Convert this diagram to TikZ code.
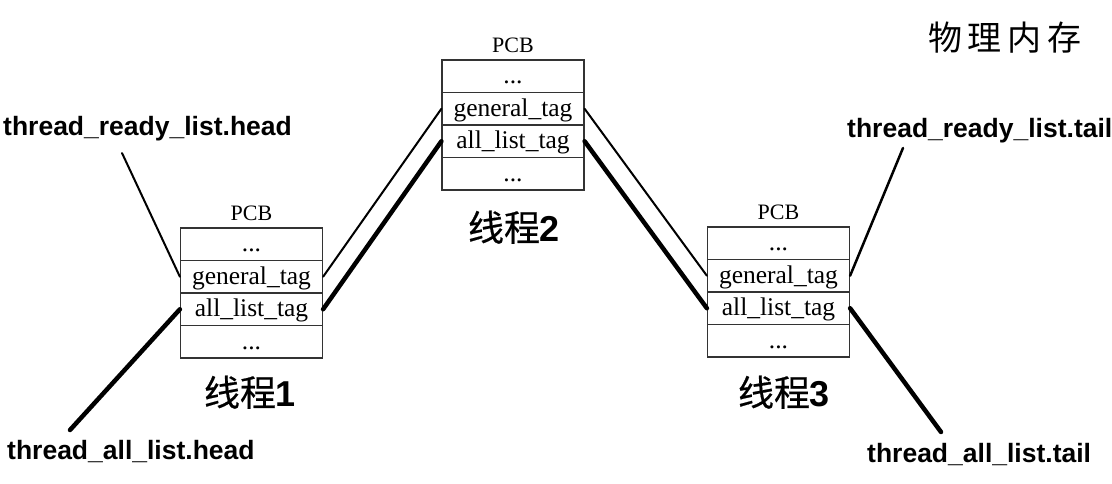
\documentclass[tikz,border=0pt]{standalone}
\usepackage{fontspec}
\setmainfont{Liberation Serif}
\newfontfamily\lblfont{Liberation Sans}
\newfontfamily\cjkfont{Noto Sans CJK SC}
\newfontfamily\cjkthick[FakeBold=0.5]{Noto Sans CJK SC}
\begin{document}
\begin{tikzpicture}[x=1pt,y=-1pt,
  cell/.style={draw=black!80, line width=1.2pt, minimum width=142pt, minimum height=32.5pt,
    inner sep=0pt, text height=18pt, text depth=3pt, font=\fontsize{25.5}{25.5}\selectfont},
  pcb/.style={inner sep=0pt, anchor=base, font=\fontsize{22}{22}\selectfont},
  thr/.style={inner sep=0pt, anchor=base, font=\fontsize{36}{36}\selectfont},
  lbl/.style={inner sep=0pt, anchor=base west, font=\fontsize{26.5}{26.5}\selectfont\lblfont\bfseries},
  thinline/.style={line width=2pt, line cap=round},
  thickline/.style={line width=4.5pt, line cap=round}]
\useasboundingbox (0,0) rectangle (1112,483);

% title
\node[inner sep=0pt, anchor=base, font=\fontsize{34}{34}\selectfont\cjkfont] (title) at (1005,50)
  {物\hspace{6pt}理\hspace{6pt}内\hspace{6pt}存};

% box 1
\node[cell] (b1a) at (251.5,244.25) {...};
\node[cell] (b1g) at (251.5,276.75) {general\_tag};
\node[cell] (b1l) at (251.5,309.25) {all\_list\_tag};
\node[cell] (b1b) at (251.5,341.75) {...};
\node[pcb] (p1) at (251.5,220) {PCB};
\node[thr] (t1) at (250,406) {\cjkthick 线程\lblfont\bfseries 1};

% box 2
\node[cell] (b2a) at (513,76.25) {...};
\node[cell] (b2g) at (513,108.75) {general\_tag};
\node[cell] (b2l) at (513,141.25) {all\_list\_tag};
\node[cell] (b2b) at (513,173.75) {...};
\node[pcb] (p2) at (513,52) {PCB};
\node[thr] (t2) at (514,241) {\cjkthick 线程\lblfont\bfseries 2};

% box 3
\node[cell] (b3a) at (778.5,243.25) {...};
\node[cell] (b3g) at (778.5,275.75) {general\_tag};
\node[cell] (b3l) at (778.5,308.25) {all\_list\_tag};
\node[cell] (b3b) at (778.5,340.75) {...};
\node[pcb] (p3) at (778.5,219) {PCB};
\node[thr] (t3) at (784,406) {\cjkthick 线程\lblfont\bfseries 3};

% labels
\node[lbl] (rh) at (3,135) {thread\_ready\_list.head};
\node[lbl] (ah) at (7,459) {thread\_all\_list.head};
\node[lbl] (rt) at (847,137) {thread\_ready\_list.tail};
\node[lbl] (at) at (867,462) {thread\_all\_list.tail};

\coordinate (rhe) at (122,153);
\coordinate (ahe) at (70,430);
\coordinate (rte) at (903,148);
\coordinate (ate) at (941,432);

% connectors
\draw[thinline] (rhe) -- (b1g.west);
\draw[thickline] (ahe) -- (b1l.west);
\draw[thinline] (b1g.east) -- (b2g.west);
\draw[thickline] (b1l.east) -- (b2l.west);
\draw[thinline] (b2g.east) -- (b3g.west);
\draw[thickline] (b2l.east) -- (b3l.west);
\draw[thinline, line width=2.5pt] (b3g.east) -- (rte);
\draw[thickline] (b3l.east) -- (ate);
\end{tikzpicture}
\end{document}
